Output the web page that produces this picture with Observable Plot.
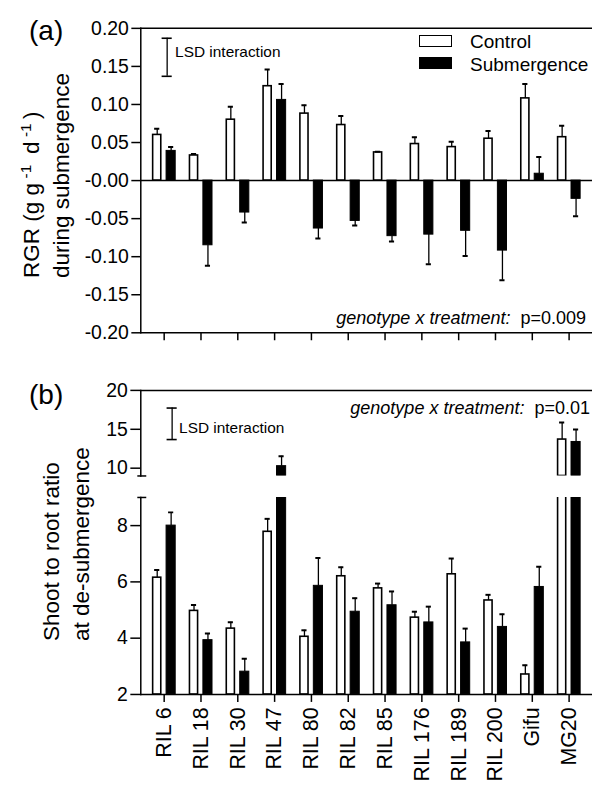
<!DOCTYPE html>
<html><head><meta charset="utf-8">
<script src="https://cdn.jsdelivr.net/npm/d3@7"></script>
<script src="https://cdn.jsdelivr.net/npm/@observablehq/plot@0.6"></script>
<style>
html,body{margin:0;padding:0;background:#fff}
#root{position:relative;width:592px;height:789px;overflow:hidden;font-family:"Liberation Sans",Arial,sans-serif;color:#000}
.abs{position:absolute;white-space:pre;line-height:1}
.rot{position:absolute;transform-origin:0 0;transform:rotate(-90deg);white-space:pre;font-size:22.5px;line-height:30px}
.box{position:absolute;width:31px;height:10px;border:1.5px solid #000}
sup{font-size:0.68em;vertical-align:0.55em;line-height:0}
</style></head><body>
<div id="root"></div>
<script>
// ---------- data ----------
const genotypes = ["RIL 6","RIL 18","RIL 30","RIL 47","RIL 80","RIL 82","RIL 85","RIL 176","RIL 189","RIL 200","Gifu","MG20"];
const treatments = ["Control","Submergence"];
// (a) RGR during submergence (g g-1 d-1)
const rgrControl   = [0.060,0.033,0.080,0.124,0.088,0.073,0.037,0.048,0.044,0.055,0.108,0.057];
const rgrControlSE = [0.008,0.002,0.017,0.022,0.011,0.012,0.001,0.009,0.007,0.010,0.019,0.015];
const rgrSub       = [0.039,-0.085,-0.042,0.106,-0.063,-0.053,-0.073,-0.071,-0.066,-0.092,0.009,-0.024];
const rgrSubSE     = [0.005,0.027,0.013,0.021,0.013,0.006,0.007,0.039,0.033,0.039,0.022,0.023];
// (b) shoot to root ratio at de-submergence
const srControl    = [6.15,4.97,4.34,7.78,4.05,6.20,5.77,4.73,6.27,5.34,2.71,13.68];
const srControlSE  = [0.27,0.21,0.23,0.46,0.23,0.32,0.17,0.21,0.56,0.20,0.33,2.18];
const srSub        = [8.00,3.93,2.81,10.26,5.86,4.94,5.17,4.56,3.85,4.40,5.82,13.37];
const srSubSE      = [0.47,0.24,0.46,1.28,0.99,0.48,0.49,0.56,0.49,0.45,0.72,1.59];
// tick labels
const rgrTicks = [0.20,0.15,0.10,0.05,0,-0.05,-0.10,-0.15,-0.20];
const srTicksUpper = [10,15,20];
const srTicksLower = [2,4,6,8];
const srBreak = 9;
// LSD (interaction) values
const lsdRGR = 0.05;
const lsdSR = 4.05;
const pRGR = "p=0.009";
const pSR = "p=0.01";

// ---------- build tables ----------
function rows(ctrl, ctrlSE, sub, subSE) {
  const out = [];
  genotypes.forEach((g, i) => {
    out.push({genotype: g, treatment: "Control", value: ctrl[i], se: ctrlSE[i]});
    out.push({genotype: g, treatment: "Submergence", value: sub[i], se: subSE[i]});
  });
  return out;
}
const rgrRows = rows(rgrControl, rgrControlSE, rgrSub, rgrSubSE);
const srRows = rows(srControl, srControlSE, srSub, srSubSE);
const srRowsUpper = srRows.filter(r => r.value > srBreak);

// ---------- layout ----------
const W = 595, ML = 141, MR = 0;
const step = (W - ML - MR) / genotypes.length;
const off = {Control: -7, Submergence: 7};
const barW = {Control: 9, Submergence: 10};
const font = '"Liberation Sans", Arial, sans-serif';
const root = document.getElementById("root");

function place(el, top) {
  const d = document.createElement("div");
  d.style.position = "absolute"; d.style.left = "0px"; d.style.top = top + "px";
  d.appendChild(el); root.appendChild(d);
}

function groupMarks(data, base) {
  const marks = [];
  for (const t of treatments) {
    const d = data.filter(r => r.treatment === t);
    const o = off[t], w = barW[t];
    const il = step / 2 + o - w / 2, ir = step - il - w;
    const end = r => r.value + (r.value < 0 ? -1 : 1) * r.se;
    marks.push(Plot.barY(d, {x: "genotype", y1: base, y2: "value",
      fill: t === "Control" ? "white" : "black", stroke: "black",
      strokeWidth: t === "Control" ? 1.6 : 1, insetLeft: il, insetRight: ir, clip: true}));
    marks.push(Plot.ruleX(d, {x: "genotype", y1: "value", y2: end, dx: o,
      stroke: "black", strokeWidth: 1.3, clip: true}));
    const cl = step / 2 + o - 3, cr = step - cl - 6;
    marks.push(Plot.tickY(d, {x: "genotype", y: end, insetLeft: cl, insetRight: cr,
      stroke: "black", strokeWidth: 2, clip: true}));
  }
  return marks;
}

function lsdMarks(lsd, top, textY, lineDx, textDx) {
  const d = [{g: genotypes[0], lo: top - lsd, hi: top}];
  const il = step / 2 + lineDx - 5.5, ir = step - il - 11;
  return [
    Plot.ruleX(d, {x: "g", y1: "lo", y2: "hi", dx: lineDx, stroke: "black", strokeWidth: 1.3}),
    Plot.tickY(d, {x: "g", y: "lo", insetLeft: il, insetRight: ir, stroke: "black", strokeWidth: 1.6}),
    Plot.tickY(d, {x: "g", y: "hi", insetLeft: il, insetRight: ir, stroke: "black", strokeWidth: 1.6}),
    Plot.text(d, {x: "g", y: () => textY, text: () => "LSD interaction", dx: textDx,
      textAnchor: "start", fontSize: 15.5})
  ];
}

const common = {
  width: W, marginLeft: ML, marginRight: MR,
  style: {fontFamily: font, fontSize: "19.5px", color: "black", background: "transparent", overflow: "visible"},
};
const xScale = {type: "band", domain: genotypes, padding: 0};

// ---------- panel (a) ----------
const plotA = Plot.plot({
  ...common, height: 354, marginTop: 28, marginBottom: 20,
  x: xScale, y: {domain: [-0.2, 0.2]},
  marks: [
    Plot.frame({anchor: "left", strokeWidth: 1.5}),
    Plot.frame({anchor: "top", strokeWidth: 1.5}),
    Plot.frame({anchor: "bottom", strokeWidth: 1.5}),
    Plot.axisY({ticks: rgrTicks, tickSize: 9, tickPadding: 3, strokeWidth: 1.5, label: null,
      tickFormat: d => d === 0 ? "-0.00" : d.toFixed(2)}),
    Plot.axisX({tickSize: 8, strokeWidth: 1.5, tickFormat: () => "", label: null}),
    ...groupMarks(rgrRows, 0),
    Plot.ruleY([0], {strokeWidth: 1.5}),
    ...lsdMarks(lsdRGR, 0.187, 0.169, 3, 11)
  ]
});
place(plotA, 0);

// ---------- panel (b) upper segment ----------
const plotB1 = Plot.plot({
  ...common, height: 108, marginTop: 20, marginBottom: 2,
  x: {...xScale, axis: null}, y: {domain: [srBreak, 20]},
  marks: [
    Plot.frame({anchor: "left", strokeWidth: 1.5}),
    Plot.frame({anchor: "top", strokeWidth: 1.5}),
    Plot.axisY({ticks: srTicksUpper, tickSize: 10, tickPadding: 3, strokeWidth: 1.5, label: null,
      tickFormat: d => String(d)}),
    Plot.axisY({ticks: [srBreak], tickSize: 9, dx: 6, strokeWidth: 1.5, tickFormat: () => "", label: null}),
    ...groupMarks(srRowsUpper, srBreak),
    ...lsdMarks(lsdSR, 17.73, 15.1, 8, 15)
  ]
});
place(plotB1, 370);

// ---------- panel (b) lower segment ----------
const plotB2 = Plot.plot({
  ...common, height: 299, marginTop: 7, marginBottom: 94,
  x: xScale, y: {domain: [2, srBreak]},
  marks: [
    Plot.frame({anchor: "left", strokeWidth: 1.5}),
    Plot.frame({anchor: "bottom", strokeWidth: 1.5}),
    Plot.axisY({ticks: srTicksLower, tickSize: 10, tickPadding: 3, strokeWidth: 1.5, label: null,
      tickFormat: d => String(d)}),
    Plot.axisY({ticks: [srBreak], tickSize: 9, dx: 6, strokeWidth: 1.5, tickFormat: () => "", label: null}),
    Plot.axisX({tickSize: 8, tickPadding: 5, tickRotate: -90, strokeWidth: 1.5, fontSize: 21.5, label: null}),
    ...groupMarks(srRows, 2)
  ]
});
place(plotB2, 490);

// ---------- text overlays ----------
function html(str, css) {
  const d = document.createElement("div");
  d.className = "abs"; d.innerHTML = str; Object.assign(d.style, css); root.appendChild(d); return d;
}
html("(a)", {left: "29px", top: "17px", fontSize: "28px"});
html("(b)", {left: "29px", top: "381px", fontSize: "28px"});
const ta = document.createElement("div"); ta.className = "rot";
ta.innerHTML = "RGR (g g\u2009<sup>-1</sup>\u2009 d\u2009<sup>-1</sup>\u2009)\nduring submergence";
Object.assign(ta.style, {left: "17px", top: "278px"}); root.appendChild(ta);
const tb = document.createElement("div"); tb.className = "rot";
tb.innerHTML = "Shoot to root ratio\nat de-submergence";
Object.assign(tb.style, {left: "37px", top: "641px"}); root.appendChild(tb);
// legend
const lb1 = document.createElement("div"); lb1.className = "box";
Object.assign(lb1.style, {left: "419px", top: "35px", background: "#fff"}); root.appendChild(lb1);
const lb2 = document.createElement("div"); lb2.className = "box";
Object.assign(lb2.style, {left: "419px", top: "57px", background: "#000"}); root.appendChild(lb2);
html(treatments[0], {left: "470px", top: "32px", fontSize: "19px"});
html(treatments[1], {left: "470px", top: "55px", fontSize: "19px"});
// interaction statistics
html("<i>genotype x treatment:</i>  " + pRGR, {right: "6px", top: "309px", fontSize: "18px"});
html("<i>genotype x treatment:</i>  " + pSR, {right: "2px", top: "399px", fontSize: "18px"});
</script>
</body></html>
